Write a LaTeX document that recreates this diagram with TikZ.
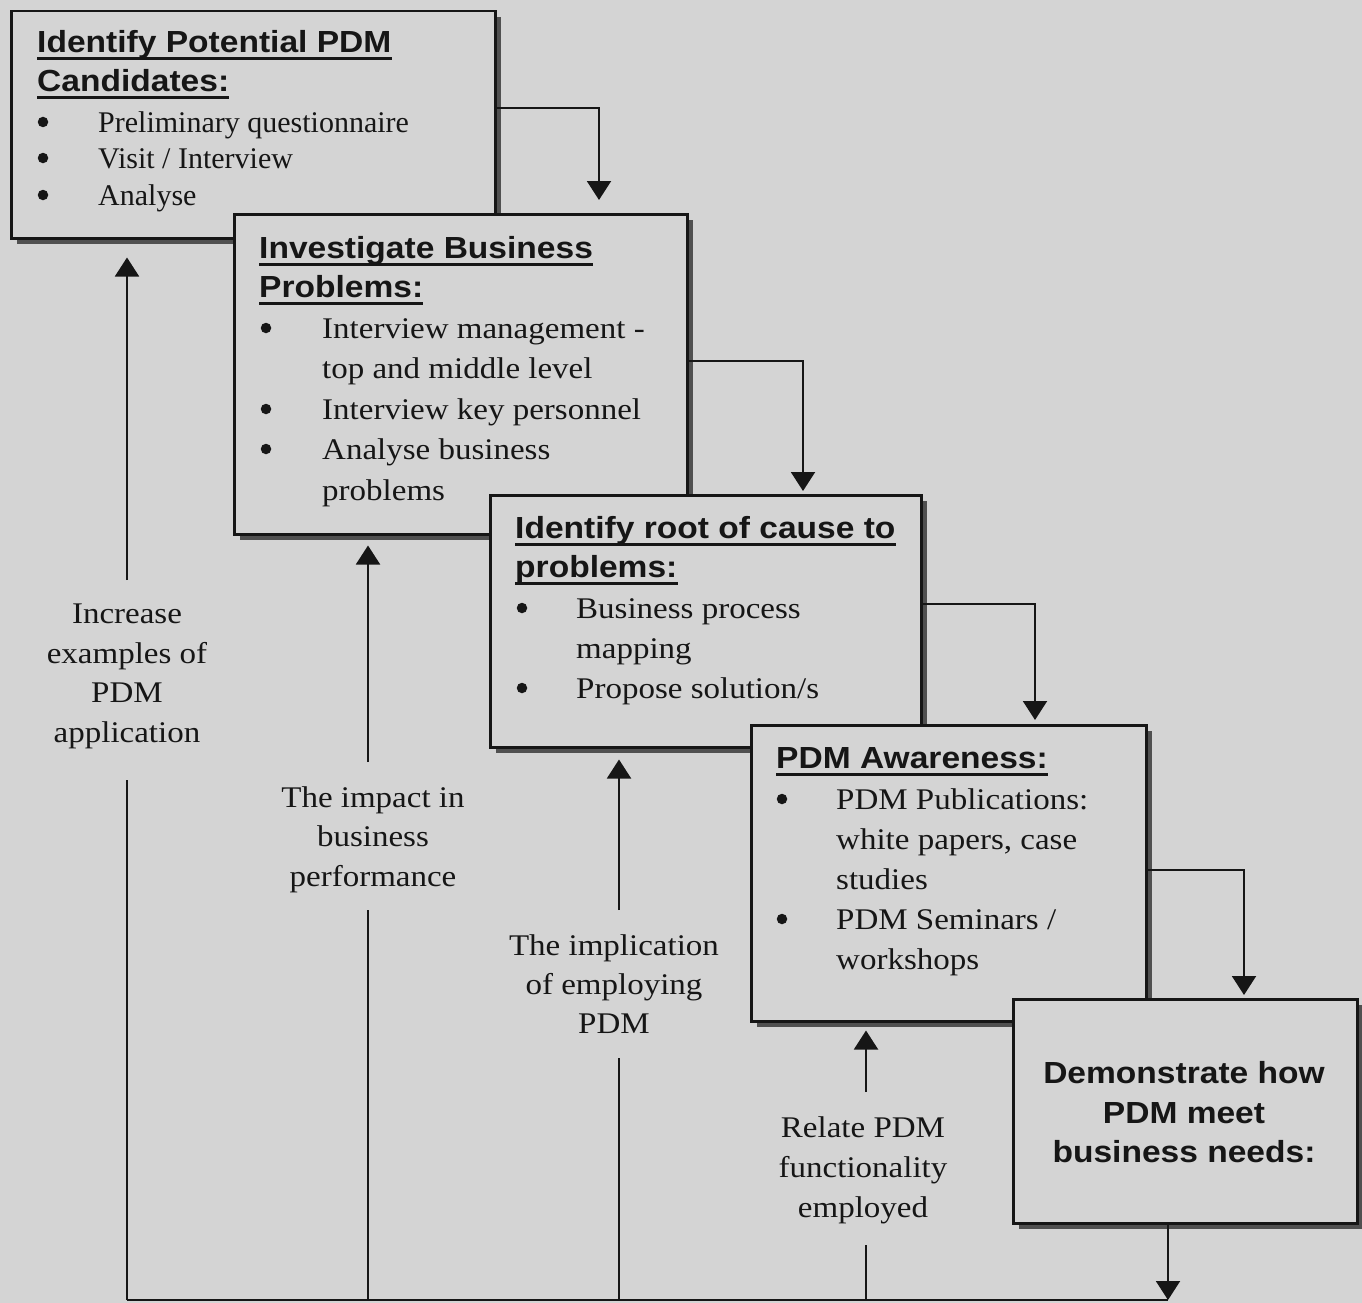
\documentclass[tikz,border=0pt]{standalone}
\usepackage{fontspec}
\setmainfont{Liberation Serif}
\newfontfamily\hdfont[FakeStretch=1.1]{Liberation Sans}
\newfontfamily\bdfont[FakeStretch=1.1]{Liberation Serif}
\usetikzlibrary{arrows.meta,shadows}
\definecolor{bg}{RGB}{212,212,212}
\definecolor{shd}{RGB}{80,80,80}
\definecolor{ink}{RGB}{22,22,22}
\begin{document}
\begin{tikzpicture}[x=1pt,y=-1pt,
  stepbox/.style={draw=ink, line width=2.5pt, fill=bg, inner sep=0pt, anchor=north west,
    drop shadow={shadow xshift=6pt, shadow yshift=-6pt, fill=shd, opacity=1}},
  hd/.style={anchor=base west, inner sep=0pt, text=ink, font=\hdfont\bfseries\fontsize{30.5pt}{40pt}\selectfont},
  hdc/.style={anchor=base, inner sep=0pt, text=ink, font=\hdfont\bfseries\fontsize{30.5pt}{40pt}\selectfont},
  bxa/.style={anchor=base west, inner sep=0pt, text=ink, font=\rmfamily\fontsize{30pt}{37pt}\selectfont},
  bx/.style={anchor=base west, inner sep=0pt, text=ink, font=\bdfont\fontsize{30pt}{40pt}\selectfont},
  bul/.style={circle, fill=ink, inner sep=0pt, minimum size=10.5pt, yshift=10pt},
  lab/.style={anchor=base, inner sep=0pt, text=ink, font=\bdfont\fontsize{30pt}{40pt}\selectfont},
  ul/.style={draw=ink, line width=3pt},
  conn/.style={draw=ink, line width=2pt},
  arr/.style={conn, -{Triangle[width=24pt,length=19pt]}}
]
\useasboundingbox (0,0) rectangle (1362,1303);
\fill[bg] (0,0) rectangle (1362,1303);

% ---------- boxes ----------
\node[stepbox, minimum width=484pt, minimum height=227pt] (b1) at (10,10) {};
\node[hd] (t1a) at (37,53) {Identify Potential PDM};
\node[hd] (t1b) at (37,92) {Candidates:};
\draw[ul] ([yshift=-6pt]t1a.base west) -- ([yshift=-6pt]t1a.base east);
\draw[ul] ([yshift=-6pt]t1b.base west) -- ([yshift=-6pt]t1b.base east);
\node[bul] (u1a) at (43,132) {};
\node[bul] (u1b) at (43,168) {};
\node[bul] (u1c) at (43,205) {};
\node[bxa] (t1c) at (98,132) {Preliminary questionnaire};
\node[bxa] (t1d) at (98,168) {Visit / Interview};
\node[bxa] (t1e) at (98,205) {Analyse};

\node[stepbox, minimum width=453pt, minimum height=320pt] (b2) at (233,213) {};
\node[hd] (t2a) at (259,258) {Investigate Business};
\node[hd] (t2b) at (259,297) {Problems:};
\draw[ul] ([yshift=-6pt]t2a.base west) -- ([yshift=-6pt]t2a.base east);
\draw[ul] ([yshift=-6pt]t2b.base west) -- ([yshift=-6pt]t2b.base east);
\node[bul] (u2a) at (266,338) {};
\node[bul] (u2b) at (266,419) {};
\node[bul] (u2c) at (266,459) {};
\node[bx] (t2c) at (322,338) {Interview management -};
\node[bx] (t2d) at (322,378) {top and middle level};
\node[bx] (t2e) at (322,419) {Interview key personnel};
\node[bx] (t2f) at (322,459) {Analyse business};
\node[bx] (t2g) at (322,500) {problems};

\node[stepbox, minimum width=431pt, minimum height=252pt] (b3) at (489,494) {};
\node[hd] (t3a) at (515,538) {Identify root of cause to};
\node[hd] (t3b) at (515,577) {problems:};
\draw[ul] ([yshift=-6pt]t3a.base west) -- ([yshift=-6pt]t3a.base east);
\draw[ul] ([yshift=-6pt]t3b.base west) -- ([yshift=-6pt]t3b.base east);
\node[bul] (u3a) at (522,618) {};
\node[bul] (u3b) at (522,698) {};
\node[bx] (t3c) at (576,618) {Business process};
\node[bx] (t3d) at (576,658) {mapping};
\node[bx] (t3e) at (576,698) {Propose solution/s};

\node[stepbox, minimum width=395pt, minimum height=296pt] (b4) at (750,724) {};
\node[hd] (t4a) at (776,768) {PDM Awareness:};
\draw[ul] ([yshift=-6pt]t4a.base west) -- ([yshift=-6pt]t4a.base east);
\node[bul] (u4a) at (782,809) {};
\node[bul] (u4b) at (782,929) {};
\node[bx] (t4b) at (836,809) {PDM Publications:};
\node[bx] (t4c) at (836,849) {white papers, case};
\node[bx] (t4d) at (836,889) {studies};
\node[bx] (t4e) at (836,929) {PDM Seminars /};
\node[bx] (t4f) at (836,969) {workshops};

\node[stepbox, minimum width=344pt, minimum height=224pt] (b5) at (1012,998) {};
\node[hdc] (t5a) at (1184,1083) {Demonstrate how};
\node[hdc] (t5b) at (1184,1123) {PDM meet};
\node[hdc] (t5c) at (1184,1162) {business needs:};

% ---------- labels ----------
\node[lab] (l1a) at (127,623) {Increase};
\node[lab] (l1b) at (127,663) {examples of};
\node[lab] (l1c) at (127,702) {PDM};
\node[lab] (l1d) at (127,742) {application};

\node[lab] (l2a) at (373,807) {The impact in};
\node[lab] (l2b) at (373,846) {business};
\node[lab] (l2c) at (373,886) {performance};

\node[lab] (l3a) at (614,955) {The implication};
\node[lab] (l3b) at (614,994) {of employing};
\node[lab] (l3c) at (614,1033) {PDM};

\node[lab] (l4a) at (863,1137) {Relate PDM};
\node[lab] (l4b) at (863,1177) {functionality};
\node[lab] (l4c) at (863,1217) {employed};

% ---------- coordinates ----------
\coordinate (k1) at (599,108);
\coordinate (k2) at (803,361);
\coordinate (k3) at (1035,604);
\coordinate (k4) at (1244,870);
\coordinate (f1) at (127,1300);
\coordinate (f2) at (368,1300);
\coordinate (f3) at (619,1300);
\coordinate (f4) at (866,1300);
\coordinate (f5) at (1168,1300);
\coordinate (g1lo) at (127,780);
\coordinate (g1hi) at (127,580);
\coordinate (g2lo) at (368,910);
\coordinate (g2hi) at (368,762);
\coordinate (g3lo) at (619,1058);
\coordinate (g3hi) at (619,910);
\coordinate (g4lo) at (866,1245);
\coordinate (g4hi) at (866,1092);

% ---------- connectors ----------
\draw[arr, shorten >=13pt] (b1.east |- k1) -| (k1 |- b2.north);
\draw[arr, shorten >=3pt] (b2.east |- k2) -| (k2 |- b3.north);
\draw[arr, shorten >=4pt] (b3.east |- k3) -| (k3 |- b4.north);
\draw[arr, shorten >=3pt] (b4.east |- k4) -| (k4 |- b5.north);
\draw[arr] (b5.south -| f5) -- (f5);
\draw[conn] (f1) -- (f5);

\draw[conn] (f1) -- (g1lo);
\draw[arr, shorten >=18pt] (g1hi) -- (g1hi |- b1.south);
\draw[conn] (f2) -- (g2lo);
\draw[arr, shorten >=10pt] (g2hi) -- (g2hi |- b2.south);
\draw[conn] (f3) -- (g3lo);
\draw[arr, shorten >=11pt] (g3hi) -- (g3hi |- b3.south);
\draw[conn] (f4) -- (g4lo);
\draw[arr, shorten >=8pt] (g4hi) -- (g4hi |- b4.south);
\end{tikzpicture}
\end{document}
